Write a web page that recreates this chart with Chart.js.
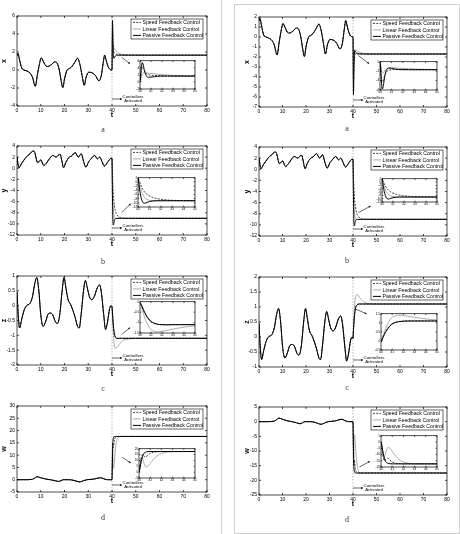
<!DOCTYPE html>
<html><head><meta charset="utf-8">
<script src="https://cdn.jsdelivr.net/npm/chart.js@4.4.1/dist/chart.umd.min.js"></script>
<style>
body{margin:0;background:#fff;width:460px;height:534px;position:relative;overflow:hidden;font-family:"Liberation Sans",Arial,sans-serif}
canvas{position:absolute}
.cap{position:absolute;font-family:"Liberation Serif","Times New Roman",serif;font-size:8px;color:#333;transform:translate(-50%,-50%)}
.vline{position:absolute;left:221px;top:0;width:0;height:534px;border-left:1px solid #cfcfcf}
.box{position:absolute;left:234px;top:4px;width:224px;height:528px;border:1px solid #cfcfcf}
</style></head><body>
<div class="vline"></div><div class="box"></div>
<script>
// ---------- DATA ----------
const seriesNames = ['Speed Feedback Control','Linear Feedback Control','Passive Feedback Control'];
const xTicksMain = [0,10,20,30,40,50,60,70,80];
const tActivate = 40;

// common chaotic part (t < 40), same for every controller
const tX = [0,0.4,1,2,3,4.5,5.5,6.5,7.7,8.6,9.4,10.2,11,12,13,14.5,15.9,16.8,17.8,18.6,19.3,20,21,22,23,24.2,25.5,26.5,27.4,28.3,29.1,30.2,31.5,33,34.5,35.5,36.3,36.9,37.6,38.5,39.3,40];
const xPre = [1.6,1.85,1.2,0.2,0.0,-0.15,-0.35,-0.8,-1.8,-0.5,0.6,1.35,1.0,0.5,0.4,0.6,0.9,0.8,0.0,-1.2,-1.95,-1.0,-0.05,0.15,0.35,0.8,1.3,0.6,-0.6,-1.7,-0.8,-0.25,-0.3,-0.6,-1.2,-0.6,0.8,1.65,1.0,0.3,0.05,0];
const tY = [0,0.8,2,3.5,4.5,5.5,6.7,7.3,8.7,10,11.3,12.5,14,15,16.5,17.5,18.2,18.8,19.6,20.5,22,23,24.5,25.8,27,28.2,29,30.2,31,32.7,33.8,34.8,35.8,36.8,38,39.2,40];
const yPre = [2.0,0.1,0.9,1.8,2.3,2.6,3.1,3.0,1.0,1.5,0.5,1.0,1.9,2.3,2.0,2.4,2.5,1.5,0.1,1.0,2.0,2.2,2.8,2.0,2.6,1.0,0.2,1.2,1.6,2.3,1.7,2.0,1.2,0.4,1.0,1.7,1.8];
const tZ = [0,0.5,1.1,2,3,4,5.5,6.5,7.5,8.3,9.2,10,11,12,13,14,15,16.2,17,18,19,19.8,20.6,21.5,22.5,23.5,24.5,25.5,26.2,27,28,28.8,29.6,30.5,31.5,32.5,33.8,34.8,35.6,36.5,37.3,38,39,39.6,40];
const zPre = [0.45,-0.3,-0.75,-0.45,-0.15,0,0.08,0.3,0.75,0.95,0.5,-0.3,-0.7,-0.55,-0.3,-0.25,-0.3,-0.55,-0.6,-0.3,0.5,0.95,0.6,0.2,0.05,-0.15,-0.4,-0.7,-0.75,-0.3,0.5,0.85,0.6,0.3,0.2,0.3,0.6,0.7,0.4,-0.3,-0.8,-0.6,-0.1,0.0,-0.05];
const tW = [0,3,6,7,8.5,10,12,14,16,17.5,18.5,19.5,22,24,26.5,28,29.5,32,35.3,37,38.5,40];
const wPre = [0,0,0.1,0.4,1.2,0.8,0.3,0,-0.4,-0.7,-0.4,0,0,-0.3,-0.9,-0.4,0,0.2,0.8,0.2,0,0];

// controlled part (t >= 40)
const tPost = [40,40.1,40.2,40.3,40.4,40.6,40.8,41,41.3,41.6,42,42.5,43,44,45,47,50,80];
const xLeftSpeed   = [0,2.5,4.2,4.0,3.2,2.3,2.0,1.9,1.85,1.8,1.75,1.72,1.7,1.67,1.66,1.65,1.65,1.65];
const xLeftLinear  = [0,1.0,2.0,2.6,2.7,2.55,2.45,2.4,2.3,2.2,2.05,1.95,1.85,1.75,1.7,1.66,1.65,1.65];
const xLeftPassive = [0,3.5,5.5,4.8,3.2,1.6,1.3,1.35,1.5,1.6,1.64,1.65,1.65,1.65,1.65,1.65,1.65,1.65];
const xRightSpeed   = [0,-2.5,-4.3,-4.0,-3.0,-2.1,-1.8,-1.7,-1.65,-1.62,-1.63,-1.65,-1.67,-1.69,-1.7,-1.7,-1.7,-1.7];
const xRightLinear  = [0,-1.2,-2.3,-2.4,-2.0,-1.5,-1.3,-1.25,-1.3,-1.35,-1.42,-1.5,-1.55,-1.62,-1.66,-1.69,-1.7,-1.7];
const xRightPassive = [0,-3.5,-5.8,-5.0,-3.3,-1.6,-1.35,-1.4,-1.55,-1.65,-1.7,-1.7,-1.7,-1.7,-1.7,-1.7,-1.7,-1.7];
const ySpeed   = [1.8,0.5,-1.0,-2.3,-3.4,-5.0,-6.0,-6.7,-7.4,-7.9,-8.3,-8.6,-8.8,-8.95,-9.0,-9.0,-9.0,-9.0];
const yLinear  = [1.8,-0.5,-2.6,-4.4,-5.8,-7.6,-8.4,-8.8,-9.0,-9.05,-9.05,-9.03,-9.0,-9.0,-9.0,-9.0,-9.0,-9.0];
const yPassive = [1.8,-2.0,-5.5,-8.0,-9.6,-10.2,-9.8,-9.4,-9.1,-9.0,-9.0,-9.0,-9.0,-9.0,-9.0,-9.0,-9.0,-9.0];
const zLeftSpeed   = [-0.05,-0.15,-0.28,-0.4,-0.52,-0.72,-0.87,-0.97,-1.05,-1.09,-1.1,-1.1,-1.1,-1.1,-1.1,-1.1,-1.1,-1.1];
const zLeftLinear  = [-0.05,-0.2,-0.38,-0.55,-0.72,-1.0,-1.2,-1.33,-1.42,-1.44,-1.42,-1.37,-1.31,-1.22,-1.16,-1.12,-1.1,-1.1];
const zLeftPassive = [-0.05,-0.12,-0.24,-0.36,-0.48,-0.68,-0.83,-0.94,-1.03,-1.08,-1.1,-1.11,-1.1,-1.1,-1.1,-1.1,-1.1,-1.1];
const zRightSpeed   = [-0.05,0.1,0.25,0.38,0.5,0.7,0.85,0.95,1.03,1.07,1.09,1.1,1.1,1.1,1.1,1.1,1.1,1.1];
const zRightLinear  = [-0.05,0.12,0.3,0.48,0.66,0.95,1.17,1.3,1.39,1.42,1.4,1.35,1.3,1.21,1.15,1.11,1.1,1.1];
const zRightPassive = [-0.05,0.08,0.22,0.35,0.47,0.67,0.82,0.93,1.02,1.06,1.09,1.1,1.1,1.1,1.1,1.1,1.1,1.1];
const wLeftSpeed   = [0,6,12,15,14,13,14.5,16,17,17.4,17.6,17.6,17.6,17.6,17.6,17.6,17.6,17.6];
const wLeftLinear  = [0,7,12,12.5,9,4.5,5,7.5,11,13.8,16,17.2,17.5,17.6,17.6,17.6,17.6,17.6];
const wLeftPassive = [0,4,9,13,15.5,17,17.5,17.6,17.6,17.6,17.6,17.6,17.6,17.6,17.6,17.6,17.6,17.6];
const wRightSpeed   = [0,-6,-12,-15,-14,-13,-14.5,-16,-17,-17.3,-17.5,-17.5,-17.5,-17.5,-17.5,-17.5,-17.5,-17.5];
const wRightLinear  = [0,-7,-12,-12.5,-9,-4.5,-5,-7.5,-11,-13.8,-16,-17.1,-17.4,-17.5,-17.5,-17.5,-17.5,-17.5];
const wRightPassive = [0,-4,-9,-13,-15.5,-17,-17.4,-17.5,-17.5,-17.5,-17.5,-17.5,-17.5,-17.5,-17.5,-17.5,-17.5,-17.5];

// ---------- LAYOUT ----------
const PANELS = [
 {col:0,label:'x',pre:[tX,xPre],post:[xLeftSpeed,xLeftLinear,xLeftPassive],plot:[17,15,207,106],y:[-4,6,2],inset:[140,60,195,89],iy:[-2,6,2],arrow:[[44.1,1.42],[47.6,0.69]],cap:[103,129,'a']},
 {col:0,label:'y',pre:[tY,yPre],post:[ySpeed,yLinear,yPassive],plot:[17,145,207,235],y:[-12,4,2],inset:[138,177,195,207],iy:[-12,2,2],arrow:[[44.1,-7.96],[47.9,-6.36]],cap:[103,261,'b']},
 {col:0,label:'z',pre:[tZ,zPre],post:[zLeftSpeed,zLeftLinear,zLeftPassive],plot:[17,275,207,365],y:[-2,1,0.5],inset:[140,301,195,333],iy:[-1.5,0,0.5],arrow:[[44.1,-0.97],[47.6,-0.74]],cap:[103,388,'c']},
 {col:0,label:'w',pre:[tW,wPre],post:[wLeftSpeed,wLeftLinear,wLeftPassive],plot:[17,405,207,492],y:[-5,30,5],inset:[139,448,195,478],iy:[-5,20,5],arrow:[[44.3,9.2],[47.9,6.8]],cap:[103,517,'d']},
 {col:1,label:'x',pre:[tX,xPre],post:[xRightSpeed,xRightLinear,xRightPassive],plot:[259,16,447,107],y:[-7,2,1],inset:[380,61,437,90],iy:[-6,0,2],arrow:[[42.3,-1.86],[46.9,-2.68]],cap:[347,128,'a']},
 {col:1,label:'y',pre:[tY,yPre],post:[ySpeed,yLinear,yPassive],plot:[259,146,447,236],y:[-12,4,2],inset:[382,178,437,202],iy:[-12,2,2],arrow:[[42.3,-7.79],[47.5,-6.61]],cap:[347,260,'b']},
 {col:1,label:'z',pre:[tZ,zPre],post:[zRightSpeed,zRightLinear,zRightPassive],plot:[259,276,447,367],y:[-1,2,0.5],inset:[381,313,437,350],iy:[-0.5,1.5,0.5],arrow:[[40.9,0.94],[45.8,0.77]],cap:[347,387,'c']},
 {col:1,label:'w',pre:[tW,wPre],post:[wRightSpeed,wRightLinear,wRightPassive],plot:[259,406,447,495],y:[-25,5,5],inset:[381,435,437,467],iy:[-20,5,5],arrow:[[42.7,-15.5],[47.2,-13.5]],cap:[347,519,'d']}
];

const F = '"Liberation Sans", Arial, sans-serif';
Chart.defaults.font.family = F;
const STYLES = [
  {borderColor:'#111',borderWidth:0.8,borderDash:[2,1.3],order:2},
  {borderColor:'#a3a3a3',borderWidth:0.9,borderDash:[],order:3},
  {borderColor:'#000',borderWidth:1.0,borderDash:[],order:1}
];
const fmt = v => String(Math.round(v*100)/100);

function buildPoints(pre, post){
  const pts = [];
  for(let i=0;i<pre[0].length;i++){ if(pre[0][i] < tActivate) pts.push({x:pre[0][i], y:pre[1][i]}); }
  for(let i=0;i<tPost.length;i++) pts.push({x:tPost[i], y:post[i]});
  return pts;
}

function arrowLine(ctx,x1,y1,x2,y2,h){
  ctx.beginPath(); ctx.moveTo(x1,y1); ctx.lineTo(x2,y2); ctx.stroke();
  const a=Math.atan2(y2-y1,x2-x1);
  ctx.beginPath(); ctx.moveTo(x2,y2);
  ctx.lineTo(x2-h*Math.cos(a-0.45), y2-h*Math.sin(a-0.45));
  ctx.lineTo(x2-h*Math.cos(a+0.45), y2-h*Math.sin(a+0.45));
  ctx.closePath(); ctx.fill();
}

const matlab = {
  id:'matlab',
  beforeDatasetsDraw(chart, args, o){
    if(o.white){ const a=chart.chartArea; chart.ctx.save(); chart.ctx.fillStyle='#fff'; chart.ctx.fillRect(a.left,a.top,a.width,a.height); chart.ctx.restore(); }
    if(o.vline!=null){
      const {ctx, chartArea:a, scales:{x}} = chart; const px=x.getPixelForValue(o.vline);
      ctx.save(); ctx.strokeStyle='#9a9a9a'; ctx.lineWidth=0.7; ctx.setLineDash([1.5,1.5]);
      ctx.beginPath(); ctx.moveTo(px,a.top); ctx.lineTo(px,a.bottom); ctx.stroke(); ctx.restore();
    }
  },
  afterDatasetsDraw(chart, args, o){
    const {ctx, chartArea:a, scales:{x,y}} = chart;
    ctx.save();
    ctx.strokeStyle='#000'; ctx.fillStyle='#000'; ctx.lineWidth=0.7; ctx.setLineDash([]);
    ctx.strokeRect(a.left,a.top,a.width,a.height);
    const tl=o.tl;
    ctx.beginPath();
    x.ticks.forEach(t=>{const p=x.getPixelForValue(t.value); ctx.moveTo(p,a.bottom); ctx.lineTo(p,a.bottom-tl); ctx.moveTo(p,a.top); ctx.lineTo(p,a.top+tl);});
    y.ticks.forEach(t=>{const p=y.getPixelForValue(t.value); ctx.moveTo(a.left,p); ctx.lineTo(a.left+tl,p); ctx.moveTo(a.right,p); ctx.lineTo(a.right-tl,p);});
    ctx.stroke();
    if(o.legend){
      const w=72,h=20, lx=a.right-4-w, ly=a.top+3;
      ctx.fillStyle='#fff'; ctx.fillRect(lx,ly,w,h);
      ctx.strokeStyle='#000'; ctx.lineWidth=0.6; ctx.strokeRect(lx,ly,w,h);
      ctx.font='5.2px '+F; ctx.textBaseline='middle'; ctx.textAlign='left';
      seriesNames.forEach((n,i)=>{
        const ry=ly+3.4+i*6.5, s=STYLES[i];
        ctx.strokeStyle=s.borderColor; ctx.lineWidth=s.borderWidth; ctx.setLineDash(s.borderDash);
        ctx.beginPath(); ctx.moveTo(lx+2,ry); ctx.lineTo(lx+10,ry); ctx.stroke();
        ctx.setLineDash([]); ctx.fillStyle='#000'; ctx.fillText(n,lx+11.5,ry+0.3);
      });
    }
    if(o.act){
      const px=x.getPixelForValue(tActivate), py=a.bottom-7;
      ctx.strokeStyle='#000'; ctx.fillStyle='#000'; ctx.lineWidth=0.6;
      arrowLine(ctx,px,py,px+10,py,2.2);
      ctx.font='4.3px '+F; ctx.textAlign='center'; ctx.textBaseline='middle';
      ctx.fillText('Controllers',px+21,py-2.2); ctx.fillText('Activated',px+21,py+2.3);
    }
    if(o.arrow){
      const [s,e]=o.arrow;
      ctx.strokeStyle='#000'; ctx.fillStyle='#000'; ctx.lineWidth=0.6;
      arrowLine(ctx,x.getPixelForValue(s[0]),y.getPixelForValue(s[1]),x.getPixelForValue(e[0]),y.getPixelForValue(e[1]),2.2);
    }
    ctx.restore();
  }
};

function addCanvas(left,top,w,h){
  const c=document.createElement('canvas'); c.width=w; c.height=h;
  c.style.left=left+'px'; c.style.top=top+'px'; c.style.width=w+'px'; c.style.height=h+'px';
  document.body.appendChild(c); return c;
}

function datasetsFor(p){
  return p.post.map((arr,i)=>Object.assign({label:seriesNames[i],data:buildPoints(p.pre,arr),pointRadius:0,fill:false,cubicInterpolationMode:'monotone'},STYLES[i]));
}

PANELS.forEach(p=>{
  const [l,t,r,b]=p.plot;
  const Wy = p.col===0 ? 17 : 26, T=4, R=5, Hx=14;
  const cv = addCanvas(l-Wy, t-T, Wy+(r-l)+R, T+(b-t)+Hx);
  new Chart(cv,{type:'line',data:{datasets:datasetsFor(p)},options:{
    responsive:false,animation:false,events:[],devicePixelRatio:1,
    layout:{padding:{top:T,right:R,left:0,bottom:0}},
    plugins:{legend:{display:false},tooltip:{enabled:false},
      matlab:{tl:2,legend:true,act:true,vline:tActivate,arrow:p.arrow}},
    scales:{
      x:{type:'linear',min:0,max:80,afterBuildTicks:s=>{s.ticks=xTicksMain.map(v=>({value:v}));},
         ticks:{font:{size:5},color:'#000',padding:1.5,maxRotation:0,autoSkip:false,callback:fmt},
         grid:{display:false,drawTicks:false},border:{display:false},
         title:{display:true,text:'t',color:'#000',font:{size:7,weight:'bold'},padding:{top:0,bottom:0.8}},
         afterFit:s=>{s.height=Hx;}},
      y:{type:'linear',min:p.y[0],max:p.y[1],
         ticks:{stepSize:p.y[2],font:{size:5},color:'#000',padding:2,autoSkip:false,callback:fmt},
         grid:{display:false,drawTicks:false},border:{display:false},
         title:{display:true,text:p.label,color:'#000',font:{size:7,weight:'bold'},padding:{top:p.col===0?0:9.5,bottom:0}},
         afterFit:s=>{s.width=Wy;}}
    }},plugins:[matlab]});

  // inset (zoom of 40..45)
  const [il,it,ir,ib]=p.inset;
  const iWy=10, iT=2, iR=3, iHx=6;
  const ic = addCanvas(il-iWy, it-iT, iWy+(ir-il)+iR, iT+(ib-it)+iHx);
  new Chart(ic,{type:'line',data:{datasets:datasetsFor(p)},options:{
    responsive:false,animation:false,events:[],devicePixelRatio:1,
    layout:{padding:{top:iT,right:iR,left:0,bottom:0}},
    plugins:{legend:{display:false},tooltip:{enabled:false},matlab:{tl:1.3,white:true}},
    scales:{
      x:{type:'linear',min:40,max:45,ticks:{stepSize:1,font:{size:3.2},color:'#000',padding:0.6,maxRotation:0,autoSkip:false,callback:fmt},
         grid:{display:false,drawTicks:false},border:{display:false},afterFit:s=>{s.height=iHx;}},
      y:{type:'linear',min:p.iy[0],max:p.iy[1],ticks:{stepSize:p.iy[2],font:{size:3.2},color:'#000',padding:0.8,autoSkip:false,callback:fmt},
         grid:{display:false,drawTicks:false},border:{display:false},afterFit:s=>{s.width=iWy;}}
    }},plugins:[matlab]});

  const d=document.createElement('div'); d.className='cap';
  d.style.left=p.cap[0]+'px'; d.style.top=p.cap[1]+'px'; d.textContent=p.cap[2];
  document.body.appendChild(d);
});
</script>
</body></html>
